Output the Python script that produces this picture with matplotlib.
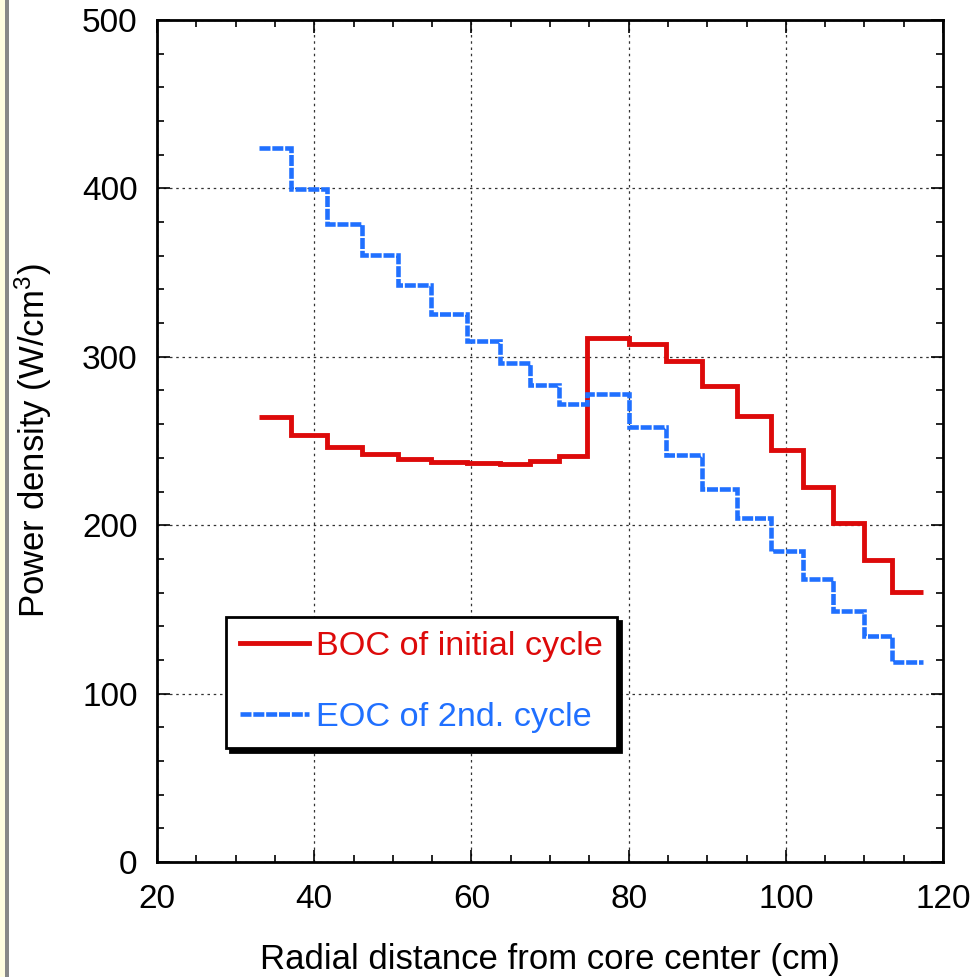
import numpy as np
import matplotlib
matplotlib.use("Agg")
import matplotlib.pyplot as plt
from matplotlib.patches import Rectangle

plt.rcParams['font.family'] = ['Liberation Sans', 'DejaVu Sans']
plt.rcParams['mathtext.default'] = 'regular'

# Step edges (cm) and values (W/cm^3)
edges = [33.0, 37.0, 41.6, 46.1, 50.6, 54.9, 59.4, 63.6, 67.5, 71.1, 74.7,
         80.0, 84.8, 89.4, 93.8, 98.1, 102.2, 106.0, 109.9, 113.5, 117.4]
boc_initial = [264.1, 253.4, 246.3, 242.1, 239.1, 237.4, 236.7, 236.6, 238.1, 240.9,
               311.0, 307.4, 297.3, 282.7, 264.8, 244.5, 222.9, 201.1, 179.1, 160.1]
eoc_2nd = [423.8, 399.4, 378.7, 360.3, 342.5, 325.4, 309.2, 296.1, 283.1, 272.0,
           277.9, 258.1, 241.5, 221.5, 204.3, 184.5, 167.9, 149.0, 134.0, 118.6]
labels = ["BOC of initial cycle", "EOC of 2nd. cycle"]
colors = ["#dd0a0a", "#2070ff"]

fig = plt.figure(figsize=(9.72, 9.77), dpi=100)
fig.patches.append(Rectangle((0, 0), 5/972, 1, transform=fig.transFigure,
                             facecolor="#fffde0", edgecolor="none", zorder=-1))
fig.patches.append(Rectangle((5/972, 0), 4/972, 1, transform=fig.transFigure,
                             facecolor="#888888", edgecolor="none", zorder=-1))

ax = fig.add_axes([157/972, 115/977, 786/972, 842/977])

ax.stairs(boc_initial, edges, color=colors[0], lw=3.5, label=labels[0],
          baseline=None)
ax.stairs(eoc_2nd, edges, color=colors[1], lw=3.3, label=labels[1],
          baseline=None, linestyle=(0, (2.4, 0.4)))

ax.set_xlim(20, 120)
ax.set_ylim(0, 500)
ax.set_xticks(np.arange(20, 121, 20))
ax.set_yticks(np.arange(0, 501, 100))
ax.set_xticks(np.arange(20, 121, 5), minor=True)
ax.set_yticks(np.arange(0, 501, 20), minor=True)
ax.grid(True, which='major', color='#333333', linestyle=(0, (2, 3)), lw=0.9)
ax.set_axisbelow(True)
ax.tick_params(which='both', direction='in', top=True, right=True,
               labelsize=24, colors='black')
ax.tick_params(which='major', length=9, width=1.2)
ax.tick_params(which='minor', length=5, width=1.2)
ax.tick_params(axis='y', which='major', pad=14)
ax.tick_params(axis='x', which='major', pad=16)
for s in ax.spines.values():
    s.set_linewidth(2)

ax.set_xlabel("Radial distance from core center (cm)", fontsize=25, labelpad=20)
ax.set_ylabel("Power density (W/cm$^3$)", fontsize=25, labelpad=20)

leg = ax.legend(loc='upper left', bbox_to_anchor=(0.0878, 0.291), fontsize=24.7,
                labelcolor='linecolor', fancybox=False, framealpha=1,
                edgecolor='black', handlelength=2.0, handletextpad=0.2,
                labelspacing=1.16, borderpad=0.42, borderaxespad=0,
                shadow={'color': 'black', 'alpha': 1, 'ox': 3, 'oy': -3})
leg.get_frame().set_linewidth(2)

fig.savefig("out.png", dpi=100)
